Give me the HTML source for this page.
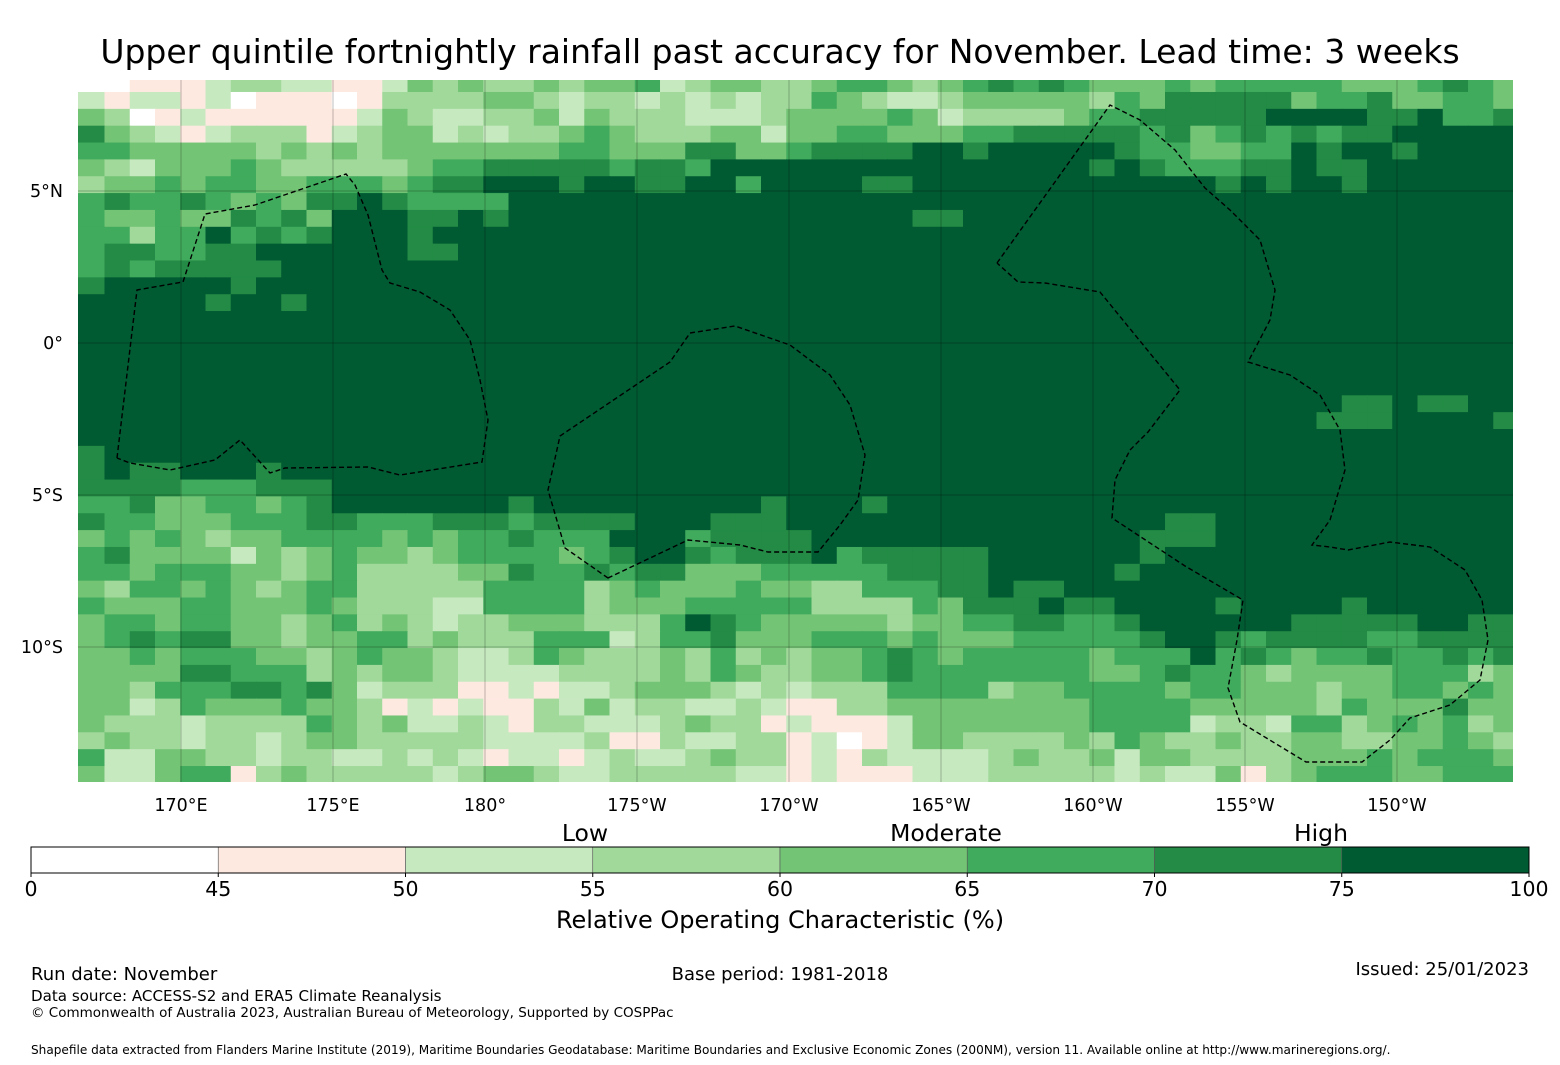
<!DOCTYPE html>
<html><head><meta charset="utf-8"><style>
html,body{margin:0;padding:0;background:#fff;}
svg{display:block;font-family:"DejaVu Sans","Liberation Sans",sans-serif;}
</style></head><body>
<svg id="fig" width="1560" height="1065" viewBox="0 0 1560 1065">
<text x="780" y="63" text-anchor="middle" font-size="33">Upper quintile fortnightly rainfall past accuracy for November. Lead time: 3 weeks</text>
<defs><clipPath id="mapclip"><rect x="78" y="80" width="1435" height="702"/></clipPath></defs>
<g id="cells" clip-path="url(#mapclip)"></g>
<g id="grid" clip-path="url(#mapclip)"></g>
<g id="eez" clip-path="url(#mapclip)"></g>
<g id="ticks"></g>
<g id="cbar"></g>
<text x="585" y="841" text-anchor="middle" font-size="23.5">Low</text>
<text x="946" y="841" text-anchor="middle" font-size="23.5">Moderate</text>
<text x="1321" y="841" text-anchor="middle" font-size="23.5">High</text>
<text x="780" y="928" text-anchor="middle" font-size="24">Relative Operating Characteristic (%)</text>
<text x="31" y="980" font-size="18">Run date: November</text>
<text x="780" y="980" text-anchor="middle" font-size="18">Base period: 1981-2018</text>
<text x="1529" y="975" text-anchor="end" font-size="18">Issued: 25/01/2023</text>
<text x="31" y="1001" font-size="15.1">Data source: ACCESS-S2 and ERA5 Climate Reanalysis</text>
<text x="31" y="1017" font-size="13.5">© Commonwealth of Australia 2023, Australian Bureau of Meteorology, Supported by COSPPac</text>
<text x="31" y="1054" font-size="12.1">Shapefile data extracted from Flanders Marine Institute (2019), Maritime Boundaries Geodatabase: Maritime Boundaries and Exclusive Economic Zones (200NM), version 11. Available online at http://www.marineregions.org/.</text>
</svg>
<script>
// each row: [cols 0-18, cols 19-37, cols 38-56]
const gridWest = [
"0011123322112434334","2122120111013333443","4301211111124322334","6432123331234423233",
"5544444343434444444","4324445433333455666","3445455445554566777","5655654546676555577",
"5445446564777667677","5535575656777677777","5665566777777667777","5656666677777777777",
"6777776777777777777","7777767767777777777","7777777777777777777","7777777777777777777",
"7777777777777777777","7777777777777777777","7777777777777777777","7777777777777777777",
"7777777777777777777","7777777777777777777","6777777777777777777","6766777677777777777",
"6666555666777777777","5564455456777777767","6554445556655566656","4545434455554545565",
"5644442434544345555","5545554434533334465","4355454345533333555","5444554445433322555",
"4554554434534323344","4565664434455343335","4454555443454432235","4444665553434432222",
"4435556656423331121","4423544454431212113","4333233335434223213","3433233234433333222",
"5224433233223232122","4224551343333323443"];
const gridCentral = [
"3445234433455434565","2332323233543223444","2433322234444542333","4543334424455444556",
"5544466445666677677","6656657777777777777","6776677577776677777","7777777777777777777",
"7777777777777766777","7777777777777777777","7777777777777777777","7777777777777777777",
"7777777777777777777","7777777777777777777","7777777777777777777","7777777777777777777",
"7777777777777777777","7777777777777777777","7777777777777777777","7777777777777777777",
"7777777777777777777","7777777777777777777","7777777777777777777","7777777777777777777",
"7777777777777777777","7777777767776777777","6667776667777777777","5577756666777777777",
"4567765666756666677","5656644455555666677","5345444544335556676","5344455555333354666",
"4333576544444344556","5523556444555454445","4333435343445654555","3333435433445655555",
"2234443232333555534","2423322321133444444","3222343312111244444","2311322331201244333",
"1232234331213222234","2233333221211122233"];
const gridEast = [
"6544454555554445654","4435466666455644554","3455666667777667556","6666564565656677777",
"7776554455767767777","7767655566766777777","7777777676776777777","7777777777777777777",
"7777777777777777777","7777777777777777777","7777777777777777777","7777777777777777777",
"7777777777777777777","7777777777777777777","7777777777777777777","7777777777777777777",
"7777777777777777777","7777777777777777777","7777777777777777777","7777777777776676677",
"7777777777766677776","7777777777777777777","7777777777777777777","7777777777777777777",
"7777777777777777777","7777777777777777777","7777766777777777777","7777666777777777777",
"7777677777777777777","7776777777777777777","6777777777777777777","7667777677776777777",
"6556777777666667766","5555677656666556666","5545557565455655656","5544565543444455534",
"4555545544434455454","4455554444435444644","4455552332553454534","3435433433443344543",
"3342443333444545554","3332322413455544555"];
const levelColors = ["#ffffff","#fee9e1","#c7e9c0","#a1d99b","#74c476","#41ab5d","#238b45","#005a32"];
const lonTicks = [170,175,180,185,190,195,200,205,210];
const lonTickLabels = ["170°E","175°E","180°","175°W","170°W","165°W","160°W","155°W","150°W"];
const latTicks = [5,0,-5,-10];
const latTickLabels = ["5°N","0°","5°S","10°S"];
const cbarBounds = [0,45,50,55,60,65,70,75,100];
const cbarTickLabels = ["0","45","50","55","60","65","70","75","100"];

const NS="http://www.w3.org/2000/svg";
function mk(tag,attrs,parent){const e=document.createElementNS(NS,tag);for(const k in attrs)e.setAttribute(k,attrs[k]);parent.appendChild(e);return e;}
const pxPerDeg=30.4;
function xOfLon(lon){return 181+(lon-170)*pxPerDeg;}
function yOfLat(lat){return 343-lat*pxPerDeg;}
const lon0=166.653, dLon=0.8306, latTop1=8.257, dLat=0.5543;
function cellLonEdge(j){return lon0+j*dLon;}
function cellLatEdge(i){return i===0?8.66:latTop1-(i-1)*dLat;}

const cells=document.getElementById('cells');
for(let i=0;i<gridWest.length;i++){
  const row=(gridWest[i].padEnd(19,'7').slice(0,19))+(gridCentral[i].padEnd(19,'7').slice(0,19))+(gridEast[i].padEnd(19,'7').slice(0,19));
  for(let j=0;j<row.length;j++){
    const v=parseInt(row[j]); if(isNaN(v)) continue;
    const x0=j===0?70:xOfLon(cellLonEdge(j)), x1=xOfLon(cellLonEdge(j+1));
    const y0=yOfLat(cellLatEdge(i)), y1=yOfLat(cellLatEdge(i+1));
    const r=mk('rect',{x:x0.toFixed(2),y:y0.toFixed(2),width:(x1-x0+0.6).toFixed(2),height:(y1-y0+0.6).toFixed(2),fill:levelColors[v]},cells);
    
    
  }
}
const grid=document.getElementById('grid');
lonTicks.forEach(l=>{const ln=mk('line',{x1:xOfLon(l),x2:xOfLon(l),y1:80,y2:782,stroke:"#000","stroke-opacity":0.25,"stroke-width":1},grid);
  });
latTicks.forEach(l=>{const ln=mk('line',{x1:78,x2:1513,y1:yOfLat(l),y2:yOfLat(l),stroke:"#000","stroke-opacity":0.25,"stroke-width":1},grid);
  });
const eezShapes=[
 [[117,458],[137,290],[183,282],[205,214],[255,205],[346,174],[355,185],[368,215],[382,270],[390,283],[420,292],[450,310],[470,340],[480,380],[488,420],[482,462],[400,475],[368,467],[285,468],[270,473],[240,440],[215,460],[170,470],[130,463],[117,458]],
 [[608,578],[565,548],[548,490],[560,436],[670,362],[690,333],[735,326],[790,345],[830,375],[850,405],[865,455],[858,500],[840,525],[818,552],[768,552],[740,545],[688,540],[608,578]],
 [[997,263],[1110,105],[1140,120],[1175,150],[1205,188],[1230,210],[1260,240],[1275,290],[1270,320],[1248,362],[1290,375],[1320,395],[1340,430],[1345,470],[1330,520],[1312,545],[1330,547],[1348,550],[1390,542],[1430,547],[1465,570],[1482,600],[1488,640],[1480,680],[1450,705],[1410,718],[1390,740],[1362,762],[1306,762],[1240,722],[1228,688],[1237,640],[1243,600],[1185,566],[1112,518],[1115,480],[1130,450],[1148,432],[1180,390],[1100,292],[1045,283],[1018,282],[997,263]]
];
const eez=document.getElementById('eez');
eezShapes.forEach(s=>{const p=mk('polyline',{points:s.map(q=>q.join(',')).join(' '),fill:"none",stroke:"#000","stroke-width":1.4,"stroke-dasharray":"5,3"},eez);
  });
const ticks=document.getElementById('ticks');
lonTicks.forEach((l,k)=>{const t=mk('text',{x:xOfLon(l),y:811,"text-anchor":"middle","font-size":17.5},ticks);t.textContent=lonTickLabels[k];
  });
latTicks.forEach((l,k)=>{const t=mk('text',{x:63,y:yOfLat(l)+6,"text-anchor":"end","font-size":17.5},ticks);t.textContent=latTickLabels[k];
  });
const cb=document.getElementById('cbar');
const cbX0=31, cbW=1498, nSeg=cbarBounds.length-1;
function cbX(k){return cbX0+cbW*k/nSeg;}
for(let k=0;k<nSeg;k++){
  const r=mk('rect',{x:cbX(k),y:847,width:cbW/nSeg,height:26,fill:levelColors[k],stroke:"#555","stroke-width":0.6},cb);
  
}
const fr=mk('rect',{x:cbX0,y:847,width:cbW,height:26,fill:"none",stroke:"#000","stroke-width":1},cb);

cbarTickLabels.forEach((s,k)=>{
  mk('line',{x1:cbX(k),x2:cbX(k),y1:873,y2:877,stroke:"#000"},cb);
  const t=mk('text',{x:cbX(k),y:896,"text-anchor":"middle","font-size":20.5},cb);t.textContent=s;
  
});
</script>
</body></html>
